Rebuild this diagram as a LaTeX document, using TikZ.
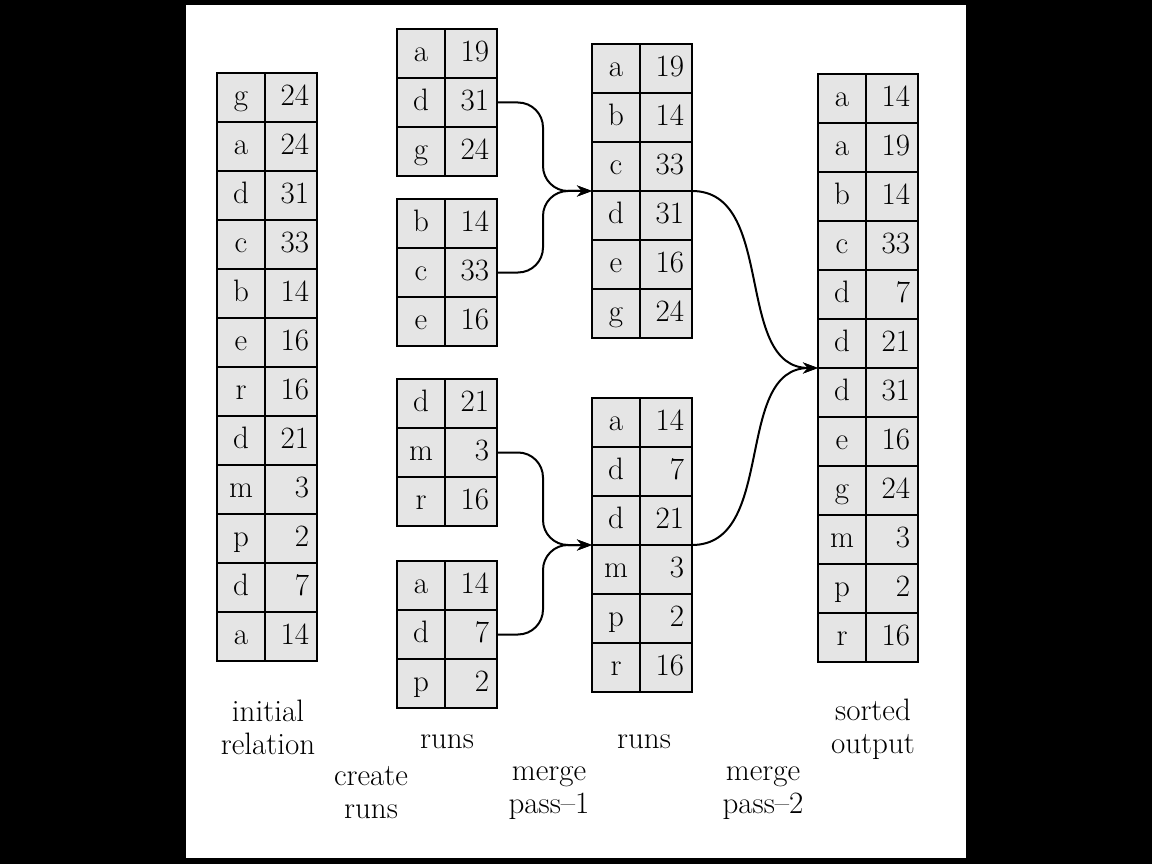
\documentclass[tikz,border=0pt]{standalone}
\usepackage{tikz}
\usetikzlibrary{positioning,arrows.meta}
\tikzset{
    key-cell/.style = {draw, fill=black!10, line width=2.4pt, rectangle, inner sep=0pt, outer sep=0pt, minimum width=48pt, minimum height=49pt, text height=22pt, text depth=6pt, anchor=north west},
    val-cell/.style = {draw, fill=black!10, line width=2.4pt, rectangle, inner ysep=0pt, inner xsep=8pt, outer sep=0pt, text width=36pt, align=right, minimum height=49pt, text height=22pt, text depth=6pt},
    run-arrow/.style = {line width=2pt, -{Stealth[length=15pt,width=11pt]}},
    caption-text/.style = {align=center},
}
\newcommand{\sorttable}[4]{
    \foreach \k/\v [count=\i] in {#4} {
        \node[key-cell] (#1-\i-k) at (#2,{#3+49*(\i-1)}) {\k};
        \node[val-cell, right=0pt of #1-\i-k] (#1-\i-v) {\v};
    }
}

\begin{document}
\begin{tikzpicture}[x=1pt, y=-1pt, font=\fontsize{31}{33}\selectfont]
\fill[black] (0,0) rectangle (1152,864);
\fill[white] (186,5) rectangle (966,858);

\sorttable{init}{217}{73}{g/24, a/24, d/31, c/33, b/14, e/16, r/16, d/21, m/3, p/2, d/7, a/14}
\sorttable{r1}{397}{29}{a/19, d/31, g/24}
\sorttable{r2}{397}{199}{b/14, c/33, e/16}
\sorttable{r3}{397}{379}{d/21, m/3, r/16}
\sorttable{r4}{397}{561}{a/14, d/7, p/2}
\sorttable{m1}{592}{44}{a/19, b/14, c/33, d/31, e/16, g/24}
\sorttable{m2}{592}{398}{a/14, d/7, d/21, m/3, p/2, r/16}
\sorttable{out}{818}{74}{a/14, a/19, b/14, c/33, d/7, d/21, d/31, e/16, g/24, m/3, p/2, r/16}

\draw[run-arrow, rounded corners=25pt] (r1-2-v.east) -- ++(46,0) |- (m1-4-k.north west);
\draw[run-arrow, rounded corners=25pt] (r2-2-v.east) -- ++(46,0) |- (m1-4-k.north west);
\draw[run-arrow, rounded corners=25pt] (r3-2-v.east) -- ++(46,0) |- (m2-4-k.north west);
\draw[run-arrow, rounded corners=25pt] (r4-2-v.east) -- ++(46,0) |- (m2-4-k.north west);
\draw[run-arrow] (m1-4-v.north east) to[out=0, in=180] (out-7-k.north west);
\draw[run-arrow] (m2-4-v.north east) to[out=0, in=180] (out-7-k.north west);

\node[caption-text] (lbl-init) at (268,727) {initial\\relation};
\node[caption-text] (lbl-runs-a) at (447,742) {runs};
\node[caption-text] (lbl-create) at (371,793) {create\\runs};
\node[caption-text] (lbl-pass-a) at (549,793) {merge\\pass--1};
\node[caption-text] (lbl-runs-b) at (644,742) {runs};
\node[caption-text] (lbl-pass-b) at (763,793) {merge\\pass--2};
\node[caption-text] (lbl-out) at (873,729) {sorted\\output};
\end{tikzpicture}
\end{document}
